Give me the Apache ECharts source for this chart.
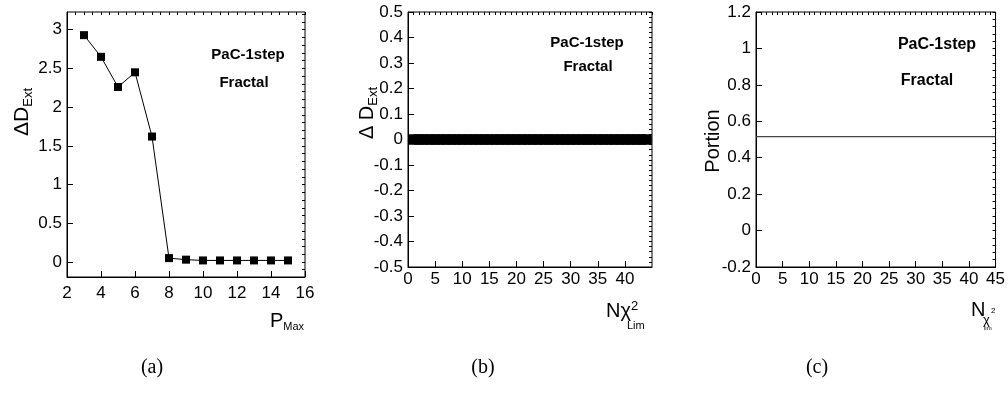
<!DOCTYPE html>
<html>
<head>
<meta charset="utf-8">
<script src="https://cdn.jsdelivr.net/npm/echarts@6/dist/echarts.min.js"></script>
<style>
html,body{margin:0;padding:0;background:#fff;}
#chart{width:1008px;height:398px;}
</style>
</head>
<body>
<div id="chart"></div>
<script>
// ---------- data ----------
const pMax = [3, 4, 5, 6, 7, 8, 9, 10, 11, 12, 13, 14, 15];
const dExtA = [2.93, 2.65, 2.26, 2.45, 1.62, 0.05, 0.03, 0.02, 0.02, 0.02, 0.02, 0.02, 0.02];

const nChi2B = [1,2,3,4,5,6,7,8,9,10,11,12,13,14,15,16,17,18,19,20,21,22,23,24,25,26,27,28,29,30,31,32,33,34,35,36,37,38,39,40,41,42,43,44];
const dExtB = [0,0,0,0,0,0,0,0,0,0,0,0,0,0,0,0,0,0,0,0,0,0,0,0,0,0,0,0,0,0,0,0,0,0,0,0,0,0,0,0,0,0,0,0];

const nChi2C = [0, 45];
const portionC = [0.516, 0.516];

// tick labels
const aXTicks = [2, 4, 6, 8, 10, 12, 14, 16];
const aYTicks = [0, 0.5, 1, 1.5, 2, 2.5, 3];
const bXTicks = [0, 5, 10, 15, 20, 25, 30, 35, 40];
const bYTicks = [-0.5, -0.4, -0.3, -0.2, -0.1, 0, 0.1, 0.2, 0.3, 0.4, 0.5];
const cXTicks = [0, 5, 10, 15, 20, 25, 30, 35, 40, 45];
const cYTicks = [-0.2, 0, 0.2, 0.4, 0.6, 0.8, 1, 1.2];

const captions = ['(a)', '(b)', '(c)'];
const annot1 = 'PaC-1step';
const annot2 = 'Fractal';

// ---------- helpers ----------
function minorValues(min, max, step) {
  const out = [];
  const start = Math.ceil(min / step - 1e-9);
  for (let i = start; i * step <= max + 1e-9; i++) out.push(Math.round(i * step * 1e6) / 1e6);
  return out;
}
const FONT = 'Liberation Sans, Arial, sans-serif';
const SERIF = '20px Liberation Serif, Times New Roman, serif';

function mainAxis(gridIndex, min, max, ticks, margin, extra) {
  return Object.assign({
    type: 'value', gridIndex, min, max,
    axisLine: { show: true, onZero: false, lineStyle: { color: '#000', width: 1 } },
    axisTick: { show: true, inside: true, length: 6, customValues: ticks, lineStyle: { color: '#000', width: 1 } },
    axisLabel: { show: true, customValues: ticks, margin, color: '#000', fontSize: 17, fontFamily: FONT },
    splitLine: { show: false }
  }, extra || {});
}
function minorAxis(gridIndex, min, max, step, extra) {
  return Object.assign({
    type: 'value', gridIndex, min, max,
    axisLine: { show: false, onZero: false },
    axisTick: { show: true, inside: true, length: 3, customValues: minorValues(min, max, step), lineStyle: { color: '#000', width: 1 } },
    axisLabel: { show: false },
    splitLine: { show: false }
  }, extra || {});
}

const aY = [-0.194, 3.229];
const bY = [-0.5, 0.5];
const cY = [-0.2, 1.2];

const option = {
  animation: false,
  backgroundColor: '#fff',
  grid: [
    { left: 67, top: 12, width: 238, height: 265, show: true, borderColor: '#000', borderWidth: 1, containLabel: false },
    { left: 408, top: 12, width: 244, height: 255, show: true, borderColor: '#000', borderWidth: 1, containLabel: false },
    { left: 756, top: 12, width: 244, height: 255, show: true, borderColor: '#000', borderWidth: 1, containLabel: false }
  ],
  xAxis: [
    mainAxis(0, 2, 16, aXTicks, 8),
    minorAxis(0, 2, 16, 0.5),
    mainAxis(1, 0, 45, bXTicks, 4),
    minorAxis(1, 0, 45, 1),
    mainAxis(2, 0, 45, cXTicks, 4),
    minorAxis(2, 0, 45, 1)
  ],
  yAxis: [
    mainAxis(0, aY[0], aY[1], aYTicks, 5),
    minorAxis(0, aY[0], aY[1], 0.1),
    mainAxis(1, bY[0], bY[1], bYTicks, 5),
    minorAxis(1, bY[0], bY[1], 0.02),
    mainAxis(2, cY[0], cY[1], cYTicks, 5),
    minorAxis(2, cY[0], cY[1], 0.04)
  ],
  series: [
    {
      type: 'line', xAxisIndex: 0, yAxisIndex: 0,
      data: pMax.map((x, i) => [x, dExtA[i]]),
      symbol: 'rect', symbolSize: 8, showAllSymbol: true,
      lineStyle: { color: '#000', width: 1 },
      itemStyle: { color: '#000', opacity: 1 }
    },
    {
      type: 'scatter', xAxisIndex: 2, yAxisIndex: 2,
      data: nChi2B.map((x, i) => [x, dExtB[i]]),
      symbol: 'rect', symbolSize: 10.5,
      itemStyle: { color: '#000', opacity: 1 }
    },
    {
      type: 'line', xAxisIndex: 4, yAxisIndex: 4,
      data: nChi2C.map((x, i) => [x, portionC[i]]),
      symbol: 'none',
      lineStyle: { color: '#444', width: 1.3 }
    }
  ],
  graphic: [
    // annotations
    { type: 'text', x: 248, y: 55, style: { text: annot1, fill: '#000', font: 'bold 15px ' + FONT, align: 'center', verticalAlign: 'middle' } },
    { type: 'text', x: 244, y: 83, style: { text: annot2, fill: '#000', font: 'bold 15px ' + FONT, align: 'center', verticalAlign: 'middle' } },
    { type: 'text', x: 587, y: 43, style: { text: annot1, fill: '#000', font: 'bold 15px ' + FONT, align: 'center', verticalAlign: 'middle' } },
    { type: 'text', x: 588, y: 67, style: { text: annot2, fill: '#000', font: 'bold 15px ' + FONT, align: 'center', verticalAlign: 'middle' } },
    { type: 'text', x: 937, y: 45, style: { text: annot1, fill: '#000', font: 'bold 16px ' + FONT, align: 'center', verticalAlign: 'middle' } },
    { type: 'text', x: 927, y: 81, style: { text: annot2, fill: '#000', font: 'bold 16px ' + FONT, align: 'center', verticalAlign: 'middle' } },
    // y titles
    { type: 'text', x: 22, y: 112, rotation: Math.PI / 2,
      style: { text: '{m|ΔD}{s|Ext}', align: 'center', verticalAlign: 'middle',
        rich: { m: { fontSize: 21, fontFamily: FONT, fill: '#000', color: '#000' },
                s: { fontSize: 13, fontFamily: FONT, fill: '#000', color: '#000', padding: [12, 0, 0, 0] } } } },
    { type: 'text', x: 367, y: 113, rotation: Math.PI / 2,
      style: { text: '{m|Δ D}{s|Ext}', align: 'center', verticalAlign: 'middle',
        rich: { m: { fontSize: 20, fontFamily: FONT, fill: '#000', color: '#000' },
                s: { fontSize: 13, fontFamily: FONT, fill: '#000', color: '#000', padding: [12, 0, 0, 0] } } } },
    { type: 'text', x: 713, y: 141, rotation: Math.PI / 2,
      style: { text: 'Portion', fill: '#000', font: '20px ' + FONT, align: 'center', verticalAlign: 'middle' } },
    // x titles
    { type: 'text', x: 304, y: 321,
      style: { text: '{m|P}{s|Max}', align: 'right', verticalAlign: 'middle',
        rich: { m: { fontSize: 20, fontFamily: FONT, fill: '#000', color: '#000' },
                s: { fontSize: 11, fontFamily: FONT, fill: '#000', color: '#000', padding: [12, 0, 0, 0] } } } },
    { type: 'text', x: 606, y: 311,
      style: { text: '{m|Nχ}{p|2}', align: 'left', verticalAlign: 'middle',
        rich: { m: { fontSize: 20, fontFamily: FONT, fill: '#000', color: '#000' },
                p: { fontSize: 13, fontFamily: FONT, fill: '#000', color: '#000', padding: [0, 0, 10, 0] } } } },
    { type: 'text', x: 627, y: 326, style: { text: 'Lim', fill: '#000', font: '11px ' + FONT, align: 'left', verticalAlign: 'middle' } },
    { type: 'text', x: 971, y: 310, style: { text: 'N', fill: '#000', font: '20px ' + FONT, align: 'left', verticalAlign: 'middle' } },
    { type: 'text', x: 983, y: 320, style: { text: 'χ', fill: '#000', font: '13px ' + FONT, align: 'left', verticalAlign: 'middle' } },
    { type: 'text', x: 991, y: 311, style: { text: '2', fill: '#000', font: '8px ' + FONT, align: 'left', verticalAlign: 'middle' } },
    { type: 'text', x: 984, y: 328, style: { text: 'lim', fill: '#000', font: '6px ' + FONT, align: 'left', verticalAlign: 'middle' } },
    // captions
    { type: 'text', x: 152, y: 368, style: { text: captions[0], fill: '#000', font: SERIF, align: 'center', verticalAlign: 'middle' } },
    { type: 'text', x: 483, y: 368, style: { text: captions[1], fill: '#000', font: SERIF, align: 'center', verticalAlign: 'middle' } },
    { type: 'text', x: 817, y: 368, style: { text: captions[2], fill: '#000', font: SERIF, align: 'center', verticalAlign: 'middle' } }
  ]
};

const chart = echarts.init(document.getElementById('chart'), null, { renderer: 'canvas' });
chart.setOption(option);
</script>
</body>
</html>
